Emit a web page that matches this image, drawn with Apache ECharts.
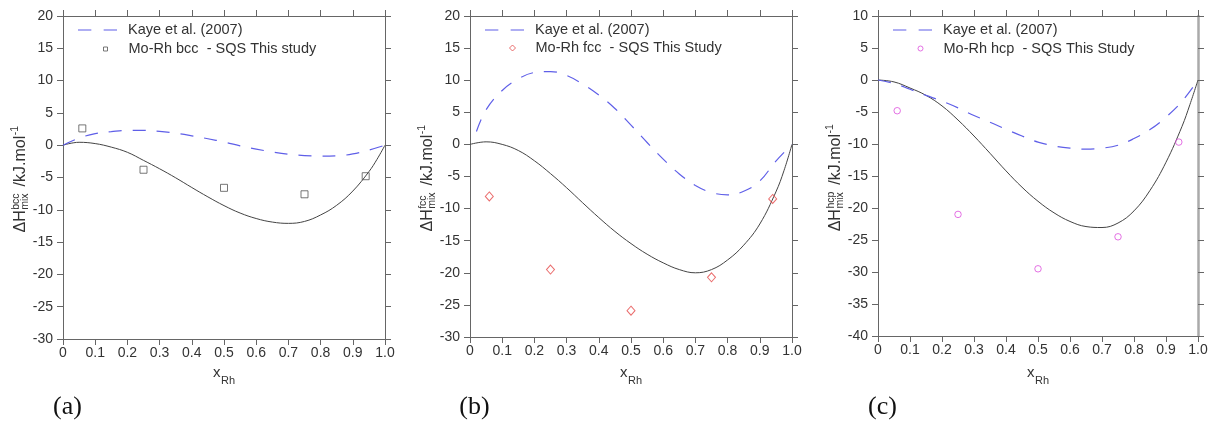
<!DOCTYPE html>
<html><head><meta charset="utf-8">
<script src="https://cdn.jsdelivr.net/npm/echarts@6/dist/echarts.min.js"></script>
<style>html,body{margin:0;padding:0;background:#fff}#c{width:1216px;height:423px}</style>
</head><body><div id="c"></div>
<script>
// ---------- data ----------
const xTickLabels = ['0','0.1','0.2','0.3','0.4','0.5','0.6','0.7','0.8','0.9','1.0'];
const xCalc = [0,0.05,0.1,0.15,0.2,0.25,0.3,0.35,0.4,0.45,0.5,0.55,0.6,0.65,0.7,0.75,0.8,0.85,0.9,0.95,0.975,1.0];
const bccCalc = [0,0.45,0.25,-0.3,-1.1,-2.35,-3.65,-5.05,-6.55,-8.0,-9.35,-10.5,-11.35,-11.9,-12.1,-11.8,-10.8,-9.3,-7.1,-4.1,-2.2,0];
const fccCalc = [0,0.4,0.0,-0.95,-2.55,-4.55,-6.75,-9.1,-11.4,-13.55,-15.45,-17.1,-18.45,-19.5,-20.0,-19.5,-18.0,-15.7,-12.4,-7.4,-4.1,0];
const hcpCalc = [0,-0.3,-1.25,-2.4,-4.05,-6.25,-8.75,-11.45,-14.2,-16.75,-18.95,-20.75,-22.1,-22.9,-23.05,-22.35,-20.45,-17.25,-12.85,-7.25,-3.8,0];

const xKaye = [0,0.05,0.1,0.15,0.2,0.25,0.3,0.35,0.4,0.45,0.5,0.55,0.6,0.65,0.7,0.75,0.8,0.85,0.9,0.95,1.0];
const xKayeFcc = [0.02,0.05,0.1,0.15,0.2,0.25,0.3,0.35,0.4,0.45,0.5,0.55,0.6,0.65,0.7,0.75,0.8,0.85,0.9,0.95,1.0];
const bccKaye = [0,1.1,1.8,2.1,2.3,2.3,2.15,1.85,1.45,1.0,0.5,-0.1,-0.6,-1.05,-1.4,-1.6,-1.7,-1.65,-1.35,-0.75,0];
const fccKaye = [2.0,5.4,8.4,10.2,11.2,11.35,10.75,9.4,7.7,5.6,3.0,0.3,-2.3,-4.6,-6.4,-7.5,-7.85,-7.3,-5.7,-2.6,0];
const hcpKaye = [0,-0.55,-1.45,-2.4,-3.3,-4.35,-5.55,-6.6,-7.7,-8.75,-9.7,-10.3,-10.65,-10.8,-10.65,-10.2,-9.15,-7.75,-5.8,-3.35,0];

const xSQS = [0.06,0.25,0.5,0.75,0.94];
const bccSQS = [2.6,-3.8,-6.6,-7.6,-4.8];
const fccSQS = [-8.1,-19.5,-25.9,-20.7,-8.5];
const hcpSQS = [-4.8,-21.0,-29.5,-24.5,-9.7];

const kayeName = 'Kaye et al. (2007)';
const sqsNames = ['Mo-Rh bcc  - SQS This study','Mo-Rh fcc  - SQS This Study','Mo-Rh hcp  - SQS This Study'];
const phases = ['bcc','fcc','hcp'];
const panelLabels = ['(a)','(b)','(c)'];
const yRanges = [[-30,20],[-30,20],[-40,10]];

// ---------- layout / style ----------
const FONT = '"Liberation Sans", Arial, sans-serif';
const KAYE_COL = '#5f5fe8';
const panels = [
  {grid:{left:63,top:16,width:322,height:323}, calc:bccCalc, kx:xKaye, kaye:bccKaye, sqs:bccSQS,
   sym:'rect', symSize:7, legSym:4, col:'#555', rightW:1, rightC:'#666'},
  {grid:{left:470,top:16,width:322,height:321}, calc:fccCalc, kx:xKayeFcc, kaye:fccKaye, sqs:fccSQS,
   sym:'diamond', symSize:[8,9], legSym:6, col:'#e54848', rightW:1, rightC:'#666'},
  {grid:{left:878,top:16,width:320,height:320}, calc:hcpCalc, kx:xKaye, kaye:hcpKaye, sqs:hcpSQS,
   sym:'circle', symSize:6.5, legSym:5, col:'#dd4fdd', rightW:2.5, rightC:'#aaa'}
];
const zip = (a,b) => a.map((v,i)=>[v,b[i]]);
const mctx = document.createElement('canvas').getContext('2d');
function tw(t, f){ mctx.font = f; return mctx.measureText(t).width; }

const grid=[], xAxis=[], yAxis=[], series=[], legend=[], graphic=[];
const axCol = '#666', lblCol = '#333';
panels.forEach((p,i)=>{
  const g = p.grid;
  grid.push(Object.assign({}, g));
  const [ymin,ymax] = yRanges[i];
  const baseX = {type:'value', gridIndex:i, min:0, max:1, interval:0.1,
    axisLine:{show:true, onZero:false, lineStyle:{color:axCol, width:1}},
    axisTick:{show:true, length:6, inside:false, lineStyle:{color:axCol}},
    splitLine:{show:false}};
  xAxis.push(Object.assign({}, baseX, {position:'bottom',
    axisLabel:{show:true, fontSize:14, color:lblCol, margin:7, fontFamily:FONT,
      formatter: v => xTickLabels[Math.round(v*10)]}}));
  xAxis.push(Object.assign({}, baseX, {position:'top', axisLabel:{show:false}}));
  const baseY = {type:'value', gridIndex:i, min:ymin, max:ymax, interval:5,
    axisTick:{show:true, length:6, inside:false, lineStyle:{color:axCol}},
    splitLine:{show:false}};
  yAxis.push(Object.assign({}, baseY, {position:'left',
    axisLine:{show:true, onZero:false, lineStyle:{color:axCol, width:1}},
    axisLabel:{show:true, fontSize:14, color:lblCol, margin:10, fontFamily:FONT}}));
  yAxis.push(Object.assign({}, baseY, {position:'right',
    axisLine:{show:true, onZero:false, lineStyle:{color:p.rightC, width:p.rightW}},
    axisLabel:{show:false}}));

  series.push({type:'line', name:'calc'+i, xAxisIndex:2*i, yAxisIndex:2*i, data:zip(xCalc,p.calc),
    symbol:'none', smooth:0.4, lineStyle:{color:'#444', width:1}, silent:true, z:2});
  series.push({type:'line', name:kayeName, xAxisIndex:2*i, yAxisIndex:2*i, data:zip(p.kx,p.kaye),
    symbol:'none', smooth:0.4, itemStyle:{color:KAYE_COL},
    lineStyle:{color:KAYE_COL, width:1.2, type:[13,11]}, silent:true, z:3});
  series.push({type:'scatter', name:sqsNames[i], xAxisIndex:2*i, yAxisIndex:2*i, data:zip(xSQS,p.sqs),
    symbol:p.sym, symbolSize:p.symSize, silent:true, z:4,
    itemStyle:{color:'rgba(255,255,255,0)', borderColor:p.col, borderWidth:1}});

  // legends
  legend.push({data:[{name:kayeName, icon:'path://M0,0h13v1.2h-13z M25,0h13v1.2h-13z',
      itemStyle:{color:KAYE_COL, borderWidth:0}}],
    left:g.left+15, top:22.5, padding:0, itemWidth:39, itemHeight:2,
    selectedMode:false, textStyle:{fontSize:14.5, color:lblCol, fontFamily:FONT, padding:[0,0,0,6]}});
  const mc = g.left + 42;
  legend.push({data:[{name:sqsNames[i], icon:p.sym,
      itemStyle:{color:'rgba(255,255,255,0)', borderColor:p.col, borderWidth:1}}],
    left:mc - p.legSym/2, top:41.5 - (p.legSym-4)/2, padding:0, itemWidth:p.legSym, itemHeight:p.legSym,
    selectedMode:false,
    textStyle:{fontSize:14.5, color:lblCol, fontFamily:FONT, padding:[0,0,0,(g.left+65)-(mc+p.legSym/2+5)]}});

  // y axis name (rotated)
  const F = '16px "Liberation Sans"', f = '10.5px "Liberation Sans"';
  const w1 = tw('\u0394H',F), w2 = Math.max(tw(phases[i],f), tw('mix',f)), w3 = tw('/kJ.mol',F), w4 = tw('-1',f);
  const gap1 = 0.5, gap2 = 7;
  const total = w1+gap1+w2+gap2+w3+w4;
  const s = -total/2;
  const ts = (text, x, y, font) => ({type:'text', x, y, silent:true,
    style:{text, font, fill:lblCol, textAlign:'left', textVerticalAlign:'middle', align:'left', verticalAlign:'middle'}});
  graphic.push({type:'group', x:g.left-37, y:g.top+g.height/2+2, rotation:Math.PI/2, silent:true, children:[
    ts('\u0394H', s, -5.3, F),
    ts(phases[i], s+w1+gap1, -9.6, f),
    ts('mix', s+w1+gap1, -1.2, f),
    ts('/kJ.mol', s+w1+gap1+w2+gap2, -5.3, F),
    ts('-1', s+w1+gap1+w2+gap2+w3+0.5, -10.8, f)
  ]});
  // x axis name
  const cx = g.left + g.width/2;
  const xf = '15px "Liberation Sans"';
  graphic.push(ts('x', cx-11, 373, xf));
  graphic.push(ts('Rh', cx-11+tw('x',xf)+0.5, 381.4, '11px "Liberation Sans"'));
  // panel label
  graphic.push({type:'text', x:g.left+4.5, y:407, silent:true,
    style:{text:panelLabels[i], font:'26px "Liberation Serif"', fill:'#111',
      textAlign:'center', textVerticalAlign:'middle', align:'center', verticalAlign:'middle'}});
});

const chart = echarts.init(document.getElementById('c'), null, {renderer:'canvas'});
chart.setOption({animation:false, backgroundColor:'#fff', textStyle:{fontFamily:FONT},
  grid, xAxis, yAxis, series, legend, graphic});
</script></body></html>
